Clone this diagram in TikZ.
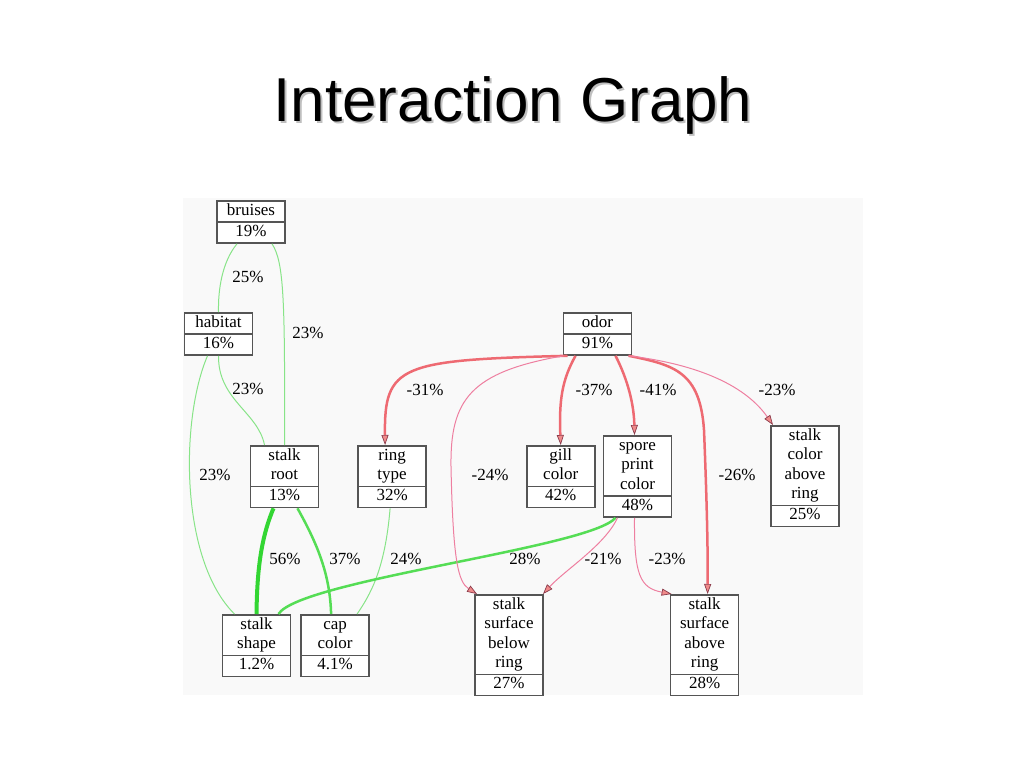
\documentclass[tikz,border=0pt]{standalone}
\usepackage{fontspec}
\setmainfont{Liberation Serif}
\newfontfamily\titlefont{Liberation Sans}
\usetikzlibrary{positioning, shapes.multipart, arrows.meta}

\definecolor{boxline}{HTML}{555555}
\definecolor{bgfill}{HTML}{F9F9F9}
\definecolor{posthin}{HTML}{88E488}
\definecolor{posmid}{HTML}{55DD55}
\definecolor{posthick}{HTML}{33D633}
\definecolor{negthick}{HTML}{EE6A72}
\definecolor{negthin}{HTML}{EE7FA0}
\definecolor{tipfill}{HTML}{F08A8A}
\definecolor{tipline}{HTML}{8A3A4A}

\begin{document}
\begin{tikzpicture}[x=1pt, y=-1pt, var/.style={rectangle split, rectangle split parts=2, draw=boxline, fill=white, line width=1.6pt, text width=62pt, align=center, inner xsep=3pt, inner ysep=0pt, font=\fontsize{17}{19.5}\selectfont}, lbl/.style={font=\fontsize{17}{20}\selectfont, inner sep=0pt}, redtip/.style={-{Triangle[length=10pt, width=7pt, fill=tipfill, color=tipline, line width=0.7pt]}}, gthin/.style={draw=posthin, line width=1pt}, gmid/.style={draw=posmid, line width=2.5pt}, gthick/.style={draw=posthick, line width=4pt}, rthin/.style={draw=negthin, line width=1pt, redtip}, rthick/.style={draw=negthick, line width=2.5pt, redtip}]

        \useasboundingbox (0,0) rectangle (1024,768);
        \fill[bgfill] (183,198) rectangle (863,695);

        \node[gray!50, font=\titlefont\fontsize{62}{70}\selectfont, anchor=base] (titleshadow) at (515,123) {Interaction Graph};
        \node[font=\titlefont\fontsize{62}{70}\selectfont, anchor=base] (title) at (513,121) {Interaction Graph};

        \node[var, anchor=north] (bruises) at (251,200) {\strut bruises\nodepart{two}\strut 19\%};
        \node[var, anchor=north] (habitat) at (218.5,312) {\strut habitat\nodepart{two}\strut 16\%};
        \node[var, anchor=north] (odor) at (597.5,312) {\strut odor\nodepart{two}\strut 91\%};
        \node[var, anchor=north] (root) at (284.5,445) {\strut stalk\\root\strut\nodepart{two}\strut 13\%};
        \node[var, right = 38pt of root] (ringtype) {\strut ring\\type\strut\nodepart{two}\strut 32\%};
        \node[var, right = 99pt of ringtype] (gill) {\strut gill\\color\strut\nodepart{two}\strut 42\%};
        \node[var, anchor=north] (spore) at (637.5,435) {\strut spore\\print\\color\strut\nodepart{two}\strut 48\%};
        \node[var, anchor=north] (scar) at (805,425) {\strut stalk\\color\\above\\ring\strut\nodepart{two}\strut 25\%};
        \node[var, anchor=north] (shape) at (256.5,614) {\strut stalk\\shape\strut\nodepart{two}\strut 1.2\%};
        \node[var, right = 9pt of shape] (cap) {\strut cap\\color\strut\nodepart{two}\strut 4.1\%};
        \node[var, anchor=north] (ssbr) at (509,594) {\strut stalk\\surface\\below\\ring\strut\nodepart{two}\strut 27\%};
        \node[var, right = 126pt of ssbr] (ssar) {\strut stalk\\surface\\above\\ring\strut\nodepart{two}\strut 28\%};

        % positive links
        \draw[gthin] ([xshift=-14pt]bruises.south) .. controls (222,262) and (218,290) .. (habitat.north) node[lbl, at={(248,277)}] {25\%};
        \draw[gthin] ([xshift=21pt]bruises.south) .. controls (284,262) and (285,300) .. (root.north) node[lbl, at={(308,333)}] {23\%};
        \draw[gthin] (habitat.south) .. controls (218,400) and (258,412) .. ([xshift=-20pt]root.north) node[lbl, at={(248,389)}] {23\%};
        \draw[gthin] ([xshift=-11pt]habitat.south) .. controls (180,420) and (180,560) .. ([xshift=-22pt]shape.north) node[lbl, at={(215,475)}] {23\%};
        \draw[gthick] ([xshift=-11pt]root.south) .. controls (260,540) and (257,575) .. (shape.north) node[lbl, at={(285,559)}] {56\%};
        \draw[gmid] ([xshift=13pt]root.south) .. controls (318,545) and (330,575) .. ([xshift=-4pt]cap.north) node[lbl, at={(345,559)}] {37\%};
        \draw[gthin] ([xshift=-2pt]ringtype.south) .. controls (385,570) and (370,595) .. ([xshift=22pt]cap.north) node[lbl, at={(406,559)}] {24\%};
        \draw[gmid] ([xshift=-22pt]spore.south) .. controls (590,548) and (300,580) .. ([xshift=22pt]shape.north) node[lbl, at={(525,559)}] {28\%};

        % negative links
        \draw[rthick] ([xshift=-30pt]odor.south) .. controls (400,360) and (384,365) .. ([xshift=-7pt]ringtype.north) node[lbl, at={(425,390)}] {-31\%};
        \draw[rthin] ([xshift=-34pt]odor.south) .. controls (470,372) and (450,400) .. (451,467) .. controls (453,560) and (458,582) .. ([xshift=-32pt]ssbr.north) node[lbl, at={(490,475)}] {-24\%};
        \draw[rthick] ([xshift=-22pt]odor.south) .. controls (562,380) and (559,400) .. (gill.north) node[lbl, at={(594,390)}] {-37\%};
        \draw[rthick] ([xshift=18pt]odor.south) .. controls (628,380) and (634,405) .. ([xshift=-3pt]spore.north) node[lbl, at={(658,390)}] {-41\%};
        \draw[rthick] ([xshift=31pt]odor.south) .. controls (675,365) and (700,372) .. (704,430) .. controls (706,480) and (708,540) .. ([xshift=3pt]ssar.north) node[lbl, at={(737,475)}] {-26\%};
        \draw[rthin] ([xshift=31pt]odor.south) .. controls (680,362) and (740,378) .. ([xshift=-32pt]scar.north) node[lbl, at={(777,390)}] {-23\%};
        \draw[rthin] ([xshift=-20pt]spore.south) .. controls (605,545) and (565,570) .. ([xshift=34pt]ssbr.north) node[lbl, at={(603,559)}] {-21\%};
        \draw[rthin] ([xshift=-3pt]spore.south) .. controls (634,575) and (640,588) .. ([xshift=-33pt]ssar.north) node[lbl, at={(667,559)}] {-23\%};

    \end{tikzpicture}
\end{document}
